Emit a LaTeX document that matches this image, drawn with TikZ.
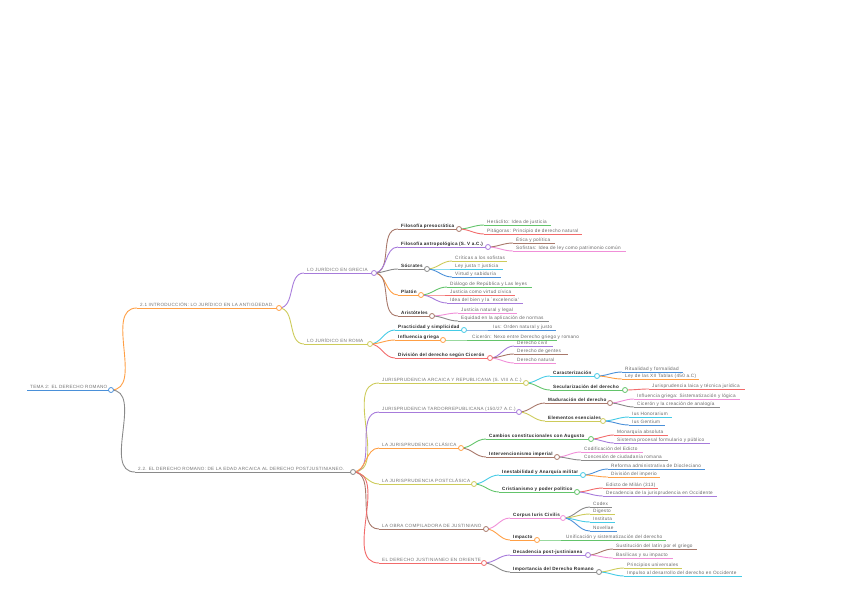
\documentclass[tikz,border=0pt]{standalone}
\usepackage{fontspec}
\setmainfont{Liberation Sans}
\newfontfamily\mmfont[LetterSpace=6]{Liberation Sans}
\definecolor{cblue}{HTML}{4A90D9}
\definecolor{corange}{HTML}{FF9F45}
\definecolor{cgray}{HTML}{8A8A8A}
\definecolor{cpurple}{HTML}{A77BDB}
\definecolor{colive}{HTML}{CDCB5A}
\definecolor{cbrown}{HTML}{A8786A}
\definecolor{cgreen}{HTML}{63C46B}
\definecolor{cred}{HTML}{F26B6B}
\definecolor{cpink}{HTML}{F08FD8}
\definecolor{ccyan}{HTML}{45CBE6}
\tikzset{lab/.style={inner sep=0pt,anchor=base west},
  up/.style={lab,font=\mmfont\fontsize{4.6}{5}\selectfont,text=black!55},
  key/.style={lab,font=\mmfont\fontsize{4.6}{5}\selectfont\bfseries,text=black!85},
  leaf/.style={lab,font=\mmfont\fontsize{4.7}{5}\selectfont,text=black!60},
  knob/.style={circle,draw=#1,fill=white,line width=.8pt,inner sep=0pt,minimum size=5pt}}
% branch: name, start x, end x, y, colour, text style, text
\newcommand{\br}[7]{\coordinate (#1s) at (#2,#4); \coordinate (#1) at (#3,#4);
  \draw[#5,line width=1pt] (#1s)--(#1); \node[#6] (#1t) at (#2+3,#4-1.6) {#7};}
\newcommand{\lk}[3]{\draw[#3,line width=.9pt] (#1) to[out=0,in=180] (#2s);}
\newcommand{\kn}[2]{\node[knob=#2] (#1k) at (#1) {};}
\begin{document}
\begin{tikzpicture}[x=1pt,y=-1pt]
\useasboundingbox (0,0) rectangle (848,599);
\br{root}{27}{111}{390}{cblue}{up}{TEMA 2: EL DERECHO ROMANO}
\br{a}{137}{279}{308}{corange}{up}{2.1 INTRODUCCIÓN: LO JURÍDICO EN LA ANTIGÜEDAD.}
\br{b}{135}{353}{472}{cgray}{up}{2.2. EL DERECHO ROMANO: DE LA EDAD ARCAICA AL DERECHO POSTJUSTINIANEO.}
\br{gr}{304}{374}{273}{cpurple}{up}{LO JURÍDICO EN GRECIA}
\br{ro}{304}{370}{344}{colive}{up}{LO JURÍDICO EN ROMA}
% Grecia
\br{pre}{398}{459}{229}{cbrown}{key}{Filosofía presocrática}
\br{ant}{398}{488}{247}{cpurple}{key}{Filosofía antropológica (S. V a.C.)}
\br{soc}{398}{427}{269}{cgray}{key}{Sócrates}
\br{pla}{398}{421}{295}{corange}{key}{Platón}
\br{ari}{398}{432}{316}{cbrown}{key}{Aristóteles}
\br{her}{484}{551}{225}{cgreen}{leaf}{Heráclito: Idea de justicia}
\br{pit}{484}{582}{234}{cred}{leaf}{Pitágoras: Principio de derecho natural}
\br{eti}{513}{555}{243}{cbrown}{leaf}{Ética y política}
\br{sof}{513}{626}{251}{cpink}{leaf}{Sofistas: Idea de ley como patrimonio común}
\br{cri}{452}{507}{261}{colive}{leaf}{Críticas a los sofistas}
\br{ley}{452}{503}{269}{ccyan}{leaf}{Ley justa = justicia}
\br{vir}{452}{501}{277}{cblue}{leaf}{Virtud y sabiduría}
\br{dia}{447}{532}{287}{cgreen}{leaf}{Diálogo de República y Las leyes}
\br{jus}{447}{515}{295}{cred}{leaf}{Justicia como virtud cívica}
\br{ide}{447}{523}{303}{cpurple}{leaf}{Idea del bien y la `excelencia'}
\br{jna}{458}{517}{313}{cpink}{leaf}{Justicia natural y legal}
\br{equ}{458}{549}{321}{cgray}{leaf}{Equidad en la aplicación de normas}
% Roma
\br{pra}{395}{464}{330}{ccyan}{key}{Practicidad y simplicidad}
\br{inf}{395}{443}{340}{corange}{key}{Influencia griega}
\br{div}{395}{490}{358}{cred}{key}{División del derecho según Cicerón}
\br{ius}{490}{556}{330}{cblue}{leaf}{Ius: Orden natural y justo}
\br{cic}{469}{557}{340}{cgreen}{leaf}{Cicerón: Nexo entre Derecho griego y romano}
\br{dci}{514}{553}{346}{cpurple}{leaf}{Derecho civil}
\br{dge}{514}{568}{354}{cbrown}{leaf}{Derecho de gentes}
\br{dna}{514}{556}{363}{cpink}{leaf}{Derecho natural}
% 2.2
\br{arc}{379}{526}{383}{colive}{up}{JURISPRUDENCIA ARCAICA Y REPUBLICANA (S. VIII A.C.)}
\br{tar}{379}{519}{412}{cpurple}{up}{JURISPRUDENCIA TARDORREPUBLICANA (150/27 A.C.)}
\br{cla}{379}{461}{448}{corange}{up}{LA JURISPRUDENCIA CLÁSICA}
\br{pos}{379}{474}{484}{colive}{up}{LA JURISPRUDENCIA POSTCLÁSICA}
\br{obr}{379}{486}{529}{cbrown}{up}{LA OBRA COMPILADORA DE JUSTINIANO}
\br{ori}{379}{484}{563}{cred}{up}{EL DERECHO JUSTINIANEO EN ORIENTE}
\br{car}{550}{597}{376}{ccyan}{key}{Caracterización}
\br{sec}{550}{625}{390}{cgreen}{key}{Secularización del derecho}
\br{rit}{622}{683}{372}{cblue}{leaf}{Ritualidad y formalidad}
\br{doc}{622}{699}{379}{corange}{leaf}{Ley de las XII Tablas (450 a.C)}
\br{lai}{649}{745}{389}{cred}{leaf}{Jurisprudencia laica y técnica jurídica}
\br{mad}{545}{610}{403}{cbrown}{key}{Maduración del derecho}
\br{ele}{545}{603}{421}{colive}{key}{Elementos esenciales}
\br{gri}{634}{740}{399}{cpink}{leaf}{Influencia griega: Sistematización y lógica}
\br{ana}{634}{720}{407}{cgray}{leaf}{Cicerón y la creación de analogía}
\br{hon}{629}{672}{417}{ccyan}{leaf}{Ius Honorarium}
\br{gen}{629}{665}{425}{cblue}{leaf}{Ius Gentium}
\br{cam}{486}{591}{439}{cgreen}{key}{Cambios constitucionales con Augusto}
\br{int}{486}{557}{457}{cbrown}{key}{Intervencionismo imperial}
\br{mon}{614}{668}{435}{cred}{leaf}{Monarquía absoluta}
\br{sis}{614}{710}{443}{cpurple}{leaf}{Sistema procesal formulario y público}
\br{cod}{581}{643}{452}{cpink}{leaf}{Codificación del Edicto}
\br{con}{581}{668}{460}{cgray}{leaf}{Concesión de ciudadanía romana}
\br{ine}{499}{583}{475}{ccyan}{key}{Inestabilidad y Anarquía militar}
\br{crt}{499}{577}{492}{cgreen}{key}{Cristianismo y poder político}
\br{ref}{608}{705}{469}{cblue}{leaf}{Reforma administrativa de Diocleciano}
\br{dim}{608}{660}{477}{corange}{leaf}{División del imperio}
\br{edi}{603}{658}{488}{cred}{leaf}{Edicto de Milán (313)}
\br{dec}{603}{717}{496}{cpurple}{leaf}{Decadencia de la jurisprudencia en Occidente}
\br{cor}{510}{563}{518}{cpink}{key}{Corpus Iuris Civilis}
\br{imp}{510}{537}{540}{corange}{key}{Impacto}
\br{cdx}{590}{612}{507}{cgray}{leaf}{Codex}
\br{dig}{590}{615}{514}{colive}{leaf}{Digesto}
\br{ins}{590}{615}{522}{ccyan}{leaf}{Instituta}
\br{nov}{590}{617}{531}{cblue}{leaf}{Novellae}
\br{uni}{563}{666}{540}{cgreen}{leaf}{Unificación y sistematización del derecho}
\br{dpj}{510}{588}{555}{cpurple}{key}{Decadencia post-justinianea}
\br{idr}{510}{599}{572}{cgray}{key}{Importancia del Derecho Romano}
\br{sus}{613}{697}{549}{cbrown}{leaf}{Sustitución del latín por el griego}
\br{bas}{613}{673}{558}{cpink}{leaf}{Basílicas y su impacto}
\br{pri}{624}{682}{568}{colive}{leaf}{Principios universales}
\br{dso}{624}{742}{576}{ccyan}{leaf}{Impulso al desarrollo del derecho en Occidente}
% connectors
\lk{root}{a}{corange} \lk{root}{b}{cgray}
\lk{a}{gr}{cpurple} \lk{a}{ro}{colive}
\lk{gr}{pre}{cbrown} \lk{gr}{ant}{cpurple} \lk{gr}{soc}{cgray} \lk{gr}{pla}{corange} \lk{gr}{ari}{cbrown}
\lk{pre}{her}{cgreen} \lk{pre}{pit}{cred} \lk{ant}{eti}{cbrown} \lk{ant}{sof}{cpink}
\lk{soc}{cri}{colive} \lk{soc}{ley}{ccyan} \lk{soc}{vir}{cblue}
\lk{pla}{dia}{cgreen} \lk{pla}{jus}{cred} \lk{pla}{ide}{cpurple}
\lk{ari}{jna}{cpink} \lk{ari}{equ}{cgray}
\lk{ro}{pra}{ccyan} \lk{ro}{inf}{corange} \lk{ro}{div}{cred}
\lk{pra}{ius}{cblue} \lk{inf}{cic}{cgreen}
\lk{div}{dci}{cpurple} \lk{div}{dge}{cbrown} \lk{div}{dna}{cpink}
\lk{b}{arc}{colive} \lk{b}{tar}{cpurple} \lk{b}{cla}{corange} \lk{b}{pos}{colive} \lk{b}{obr}{cbrown} \lk{b}{ori}{cred}
\lk{arc}{car}{ccyan} \lk{arc}{sec}{cgreen} \lk{car}{rit}{cblue} \lk{car}{doc}{corange} \lk{sec}{lai}{cred}
\lk{tar}{mad}{cbrown} \lk{tar}{ele}{colive} \lk{mad}{gri}{cpink} \lk{mad}{ana}{cgray} \lk{ele}{hon}{ccyan} \lk{ele}{gen}{cblue}
\lk{cla}{cam}{cgreen} \lk{cla}{int}{cbrown} \lk{cam}{mon}{cred} \lk{cam}{sis}{cpurple} \lk{int}{cod}{cpink} \lk{int}{con}{cgray}
\lk{pos}{ine}{ccyan} \lk{pos}{crt}{cgreen} \lk{ine}{ref}{cblue} \lk{ine}{dim}{corange} \lk{crt}{edi}{cred} \lk{crt}{dec}{cpurple}
\lk{obr}{cor}{cpink} \lk{obr}{imp}{corange} \lk{cor}{cdx}{cgray} \lk{cor}{dig}{colive} \lk{cor}{ins}{ccyan} \lk{cor}{nov}{cblue} \lk{imp}{uni}{cgreen}
\lk{ori}{dpj}{cpurple} \lk{ori}{idr}{cgray} \lk{dpj}{sus}{cbrown} \lk{dpj}{bas}{cpink} \lk{idr}{pri}{colive} \lk{idr}{dso}{ccyan}
% knobs
\kn{root}{cblue} \kn{a}{corange} \kn{b}{cgray} \kn{gr}{cpurple} \kn{ro}{colive}
\kn{pre}{cbrown} \kn{ant}{cpurple} \kn{soc}{cgray} \kn{pla}{corange} \kn{ari}{cbrown}
\kn{pra}{ccyan} \kn{inf}{corange} \kn{div}{cred}
\kn{arc}{colive} \kn{tar}{cpurple} \kn{cla}{corange} \kn{pos}{colive} \kn{obr}{cbrown} \kn{ori}{cred}
\kn{car}{ccyan} \kn{sec}{cgreen} \kn{mad}{cbrown} \kn{ele}{colive} \kn{cam}{cgreen} \kn{int}{cbrown}
\kn{ine}{ccyan} \kn{crt}{cgreen} \kn{cor}{cpink} \kn{imp}{corange} \kn{dpj}{cpurple} \kn{idr}{cgray}
\end{tikzpicture}
\end{document}
